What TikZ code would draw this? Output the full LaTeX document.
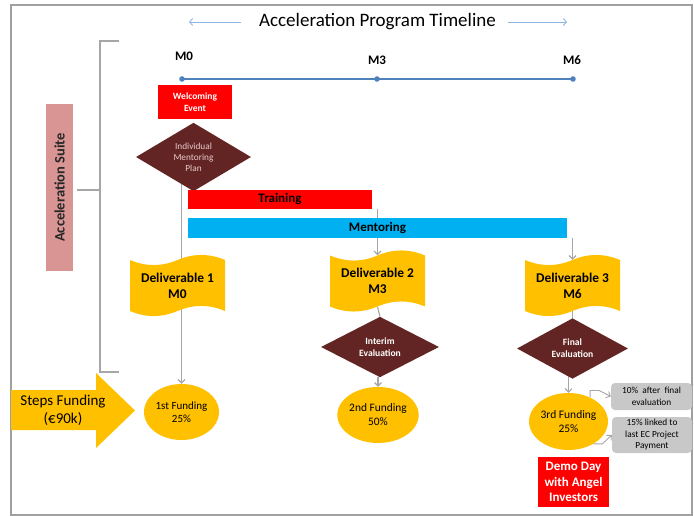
\documentclass[tikz,border=0pt]{standalone}
\usepackage{fontspec}
\setmainfont{Carlito}
\usetikzlibrary{shapes.geometric,arrows.meta,backgrounds}
\definecolor{tlblue}{HTML}{4F81BD}
\definecolor{arrblue}{HTML}{8EB4E3}
\definecolor{maroonx}{HTML}{632523}
\definecolor{goldx}{HTML}{FFC000}
\definecolor{cyanbar}{HTML}{00B0F0}
\definecolor{suitecol}{HTML}{D99594}
\definecolor{conn}{HTML}{A6A6A6}
\definecolor{boxgray}{HTML}{C8C8C8}
\definecolor{framecol}{HTML}{A0A0A0}
\definecolor{imptext}{HTML}{E6CCCC}
\newcommand\fsz[2]{\fontsize{#1}{#2}\selectfont}
\newcommand\tapeshape[2]{\begin{scope}[shift={(#1,#2)}]
 \fill[goldx] (-47.5,-25.5) .. controls (-31.7,-18.8) and (-15.8,-18.8) .. (0,-25.5)
   .. controls (15.8,-32.2) and (31.7,-32.2) .. (47.5,-25.5) -- (47.5,25.5)
   .. controls (31.7,18.8) and (15.8,18.8) .. (0,25.5)
   .. controls (-15.8,32.2) and (-31.7,32.2) .. (-47.5,25.5) -- cycle;
 \end{scope}}
\tikzset{
 connline/.style={draw=conn, line width=1.1pt},
 connarrow/.style={connline, -{Straight Barb[length=3.5pt,width=7pt]}},
 deliv/.style={align=center, font=\fsz{13.4}{16}\bfseries, minimum width=95, minimum height=51, inner sep=0},
 mlabel/.style={font=\fsz{13}{15}\bfseries},
 evaldiam/.style={diamond, fill=maroonx, text=white, font=\fsz{9.6}{12}\bfseries, align=center, inner sep=0},
 fundell/.style={ellipse, fill=goldx, align=center, inner sep=0},
 graybox/.style={rounded corners=4pt, fill=boxgray, align=center, font=\fsz{9.3}{11.5}, inner sep=0},
 bar/.style={font=\fsz{13}{15}\bfseries, inner sep=0}
}
\begin{document}
\begin{tikzpicture}[x=1pt,y=-1pt]
\useasboundingbox (0,0) rectangle (694,516);
\draw[framecol, line width=2pt] (11,5) rectangle (692,515);

% title
\node[font=\fsz{19}{22}] (title) at (377.5,22) {Acceleration Program Timeline};
\coordinate (lend) at (189,22);
\coordinate (rend) at (567,22);
\draw[arrblue, line width=0.9pt, -{Straight Barb[length=3pt,width=7pt]}] ([xshift=-15pt]title.west) -- (lend);
\draw[arrblue, line width=0.9pt, -{Straight Barb[length=3pt,width=7pt]}] ([xshift=9pt]title.east) -- (rend);

% bracket and suite
\draw[conn, line width=1.2pt] (119,41) -- (100,41) -- (100,372) -- (119,372);
\coordinate (brmid) at (100,190);
\fill[suitecol] (46,104) rectangle (73,271);
\node[rotate=90, font=\fsz{14.5}{17}\bfseries, text=black!85] (suite) at (59.5,187.5) {Acceleration Suite};
\draw[conn, line width=1.2pt] ([xshift=9pt]suite.south |- brmid) -- (brmid);

% timeline
\coordinate (m0) at (182,79);
\coordinate (m3) at (377,79);
\coordinate (m6) at (573,79);
\draw[tlblue, line width=1.5pt] (m0) -- (m3) -- (m6);
\foreach \p in {m0,m3,m6} \fill[tlblue] (\p) circle (2.8pt);
\node[mlabel] (lm0) at (184,56) {M0};
\node[mlabel] (lm3) at (377,60) {M3};
\node[mlabel] (lm6) at (572,60) {M6};

% welcoming + IMP
\node[fill=red, text=white, font=\fsz{9.5}{11.5}\bfseries, align=center, minimum width=74, minimum height=34, inner sep=0] (welcome) at (195,102) {Welcoming\\Event};
\node[diamond, fill=maroonx, text=imptext, font=\fsz{9.3}{11}, align=center, inner sep=0, minimum width=115, minimum height=54] (imp) at (193.5,157) {Individual\\Mentoring\\Plan};

% bars
\node[bar, fill=red, minimum width=184, minimum height=19] (train) at (280,199.5) {Training};
\node[bar, fill=cyanbar, minimum width=379, minimum height=20] (mentor) at (377.5,228) {Mentoring};

% deliverables
\tapeshape{177.5}{285.5}
\tapeshape{377.5}{281}
\tapeshape{572.5}{285.5}
\node[deliv] (d1) at (177.5,285.5) {Deliverable 1\\M0};
\node[deliv] (d2) at (377.5,281) {Deliverable 2\\M3};
\node[deliv] (d3) at (572.5,285.5) {Deliverable 3\\M6};

% evaluations
\node[evaldiam, minimum width=118, minimum height=54] (interim) at (380,347) {Interim\\Evaluation};
\node[evaldiam, minimum width=111, minimum height=53] (final) at (572.5,348.5) {Final\\Evaluation};

% fundings
\node[fundell, font=\fsz{11}{13}, minimum width=75, minimum height=56] (f1) at (181.5,412) {1st Funding\\25\%};
\node[fundell, font=\fsz{11.4}{14}, minimum width=76, minimum height=56] (f2) at (378,415) {2nd Funding\\50\%};
\node[fundell, font=\fsz{11.5}{14}, minimum width=77, minimum height=57] (f3) at (568.5,421.5) {3rd Funding\\25\%};

% gray boxes
\node[graybox, minimum width=81, minimum height=27] (g1) at (651.5,396.5) {10\%\ \ after\ \ final\\evaluation};
\node[graybox, minimum width=80, minimum height=36] (g2) at (652,435) {15\% linked to\\last EC Project\\Payment};
\draw[connarrow, line width=0.9pt] (f3.48) -- ++(0,-7) -- ++(9,0) -- (g1.west);
\draw[connarrow, line width=0.9pt] (f3.-42) -- ++(9,0) -- (g2.west);

% demo day
\node[fill=red, text=white, font=\fsz{13}{15.5}\bfseries, align=center, minimum width=71, minimum height=50, inner sep=0] (demo) at (573.5,482) {Demo Day\\with Angel\\Investors};

% steps funding arrow
\fill[goldx] (11,390) -- (96,390) -- (96,373) -- (135,410.5) -- (96,448) -- (96,430) -- (11,430) -- cycle;
\node[font=\fsz{15}{18}, align=center] (steps) at (63,410) {Steps Funding\\(€90k)};

% connectors behind
\begin{pgfonlayer}{background}
\draw[connarrow] (imp.center -| f1.north) -- (f1.north);
\draw[connarrow] (train.south east -| d2.north) -- (d2.north);
\draw[connline] (d2.south) -- (interim.north);
\draw[connarrow] (interim.south -| f2.north) -- (f2.north);
\draw[connarrow] (mentor.south east -| d3.north) -- (d3.north);
\draw[connline] (d3.south) -- (final.north);
\draw[connarrow] (final.center -| f3.north) -- (f3.north);
\end{pgfonlayer}
\end{tikzpicture}
\end{document}
